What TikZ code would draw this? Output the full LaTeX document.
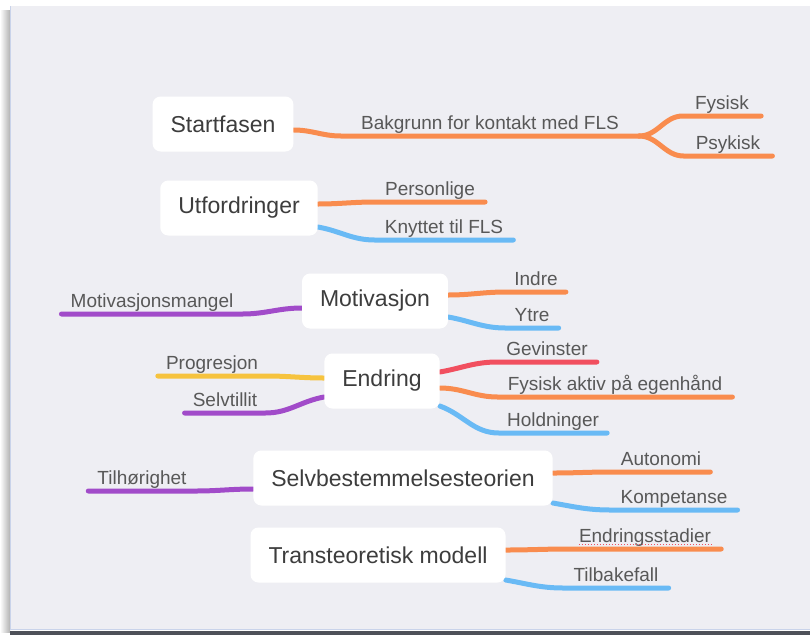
\documentclass[tikz,border=0pt]{standalone}
\usepackage{fontspec}
\setmainfont{Liberation Sans}
\usetikzlibrary{backgrounds}
\definecolor{panel}{HTML}{EEEEF3}
\definecolor{frameDark}{HTML}{4E5159}
\definecolor{frameLine}{HTML}{C9D3EA}
\definecolor{mapOrange}{HTML}{F98C4E}
\definecolor{mapBlue}{HTML}{69BAF5}
\definecolor{mapPurple}{HTML}{A14BC9}
\definecolor{mapYellow}{HTML}{F6C33E}
\definecolor{mapRed}{HTML}{F14F5F}
\definecolor{topicText}{HTML}{3D3D3D}
\definecolor{leafText}{HTML}{585858}
\tikzset{
  topic/.style={fill=white, rounded corners=8pt, minimum height=55pt, inner xsep=18pt,
    text=topicText, font=\fontsize{23}{27}\selectfont},
  leaf/.style={anchor=south, inner xsep=10pt, inner ysep=1.5pt, text depth=4.5pt,
    text height=13.5pt, text=leafText, font=\fontsize{19}{22}\selectfont},
  branch/.style={line width=5pt, line cap=round, draw=#1},
}
\begin{document}
\begin{tikzpicture}[x=1pt, y=-1pt, line join=round]
  \useasboundingbox (0,0) rectangle (810,635);
  \node[topic] (st) at (223,124) {Startfasen};
  \node[topic] (ut) at (239,208) {Utfordringer};
  \node[topic] (mo) at (375,301) {Motivasjon};
  \node[topic] (en) at (382,381) {Endring};
  \node[topic] (sb) at (403,478) {Selvbestemmelsesteorien};
  \node[topic] (tm) at (378,555) {Transteoretisk modell};
  \node[leaf, inner xsep=20pt] (bk) at (490,136) {Bakgrunn for kontakt med FLS};
  \node[leaf, inner xsep=12pt] (fy) at (722,116) {Fysisk};
  \node[leaf, inner xsep=12pt] (ps) at (728,156) {Psykisk};
  \node[leaf] (pe) at (430,202) {Personlige};
  \node[leaf] (kn) at (444,240) {Knyttet til FLS};
  \node[leaf, inner xsep=9pt] (mm) at (152,314) {Motivasjonsmangel};
  \node[leaf, inner xsep=8pt] (in) at (536,292) {Indre};
  \node[leaf, inner xsep=9pt] (yt) at (532,328) {Ytre};
  \node[leaf, inner xsep=8pt] (pr) at (212,376) {Progresjon};
  \node[leaf, inner xsep=8pt] (se) at (225,413) {Selvtillit};
  \node[leaf, inner xsep=9pt] (ge) at (547,362) {Gevinster};
  \node[leaf] (fa) at (615,397) {Fysisk aktiv på egenhånd};
  \node[leaf, inner xsep=8pt] (ho) at (553,433) {Holdninger};
  \node[leaf, inner xsep=9pt] (ti) at (142,491) {Tilhørighet};
  \node[leaf, inner xsep=9pt] (au) at (661,472) {Autonomi};
  \node[leaf] (ko) at (674,510) {Kompetanse};
  \node[leaf] (es) at (645,549) {Endringsstadier};
  \node[leaf] (tb) at (616,588) {Tilbakefall};
  \begin{scope}[on background layer]
    \shade[left color=white, right color=black!30] (0,10) rectangle (10,632);
    \fill[panel] (10,6) rectangle (810,630);
    \draw[frameLine, line width=1pt] (10.5,6) -- (10.5,629.5) -- (810,629.5);
    \fill[frameDark] (10,631) rectangle (810,635);
    \draw[branch=mapOrange] ([yshift=-6pt]st.east) to[out=0,in=180] (bk.south west) -- (bk.south east);
    \draw[branch=mapOrange] (bk.south east) to[out=0,in=180] (fy.south west) -- (fy.south east);
    \draw[branch=mapOrange] (bk.south east) to[out=0,in=180] (ps.south west) -- (ps.south east);
    \draw[branch=mapOrange] ([yshift=4pt]ut.east) to[out=0,in=180] (pe.south west) -- (pe.south east);
    \draw[branch=mapBlue] ([yshift=-19pt]ut.east) to[out=-10,in=180] (kn.south west) -- (kn.south east);
    \draw[branch=mapPurple] ([yshift=-7pt]mo.west) to[out=180,in=0] (mm.south east) -- (mm.south west);
    \draw[branch=mapOrange] ([yshift=6pt]mo.east) to[out=0,in=180] (in.south west) -- (in.south east);
    \draw[branch=mapBlue] ([yshift=-16pt]mo.east) to[out=-10,in=180] (yt.south west) -- (yt.south east);
    \draw[branch=mapYellow] ([yshift=3pt]en.west) to[out=180,in=0] (pr.south east) -- (pr.south west);
    \draw[branch=mapPurple] ([yshift=-16pt]en.west) to[out=190,in=0] (se.south east) -- (se.south west);
    \draw[branch=mapRed] ([yshift=9pt]en.east) to[out=10,in=180] (ge.south west) -- (ge.south east);
    \draw[branch=mapOrange] ([yshift=-7pt]en.east) to[out=0,in=180] (fa.south west) -- (fa.south east);
    \draw[branch=mapBlue] ([yshift=-25pt]en.east) to[out=-20,in=180] (ho.south west) -- (ho.south east);
    \draw[branch=mapPurple] ([yshift=-11pt]sb.west) to[out=180,in=0] (ti.south east) -- (ti.south west);
    \draw[branch=mapOrange] ([yshift=5pt]sb.east) to[out=0,in=180] (au.south west) -- (au.south east);
    \draw[branch=mapBlue] ([yshift=-25pt]sb.east) to[out=-10,in=180] (ko.south west) -- (ko.south east);
    \draw[branch=mapOrange] ([yshift=5pt]tm.east) to[out=0,in=180] (es.south west) -- (es.south east);
    \draw[branch=mapBlue] ([yshift=-25pt]tm.east) to[out=-10,in=180] (tb.south west) -- (tb.south east);
  \end{scope}
  \draw[mapRed, line width=1pt, dotted] ([xshift=10pt,yshift=-2pt]es.base west) -- ([xshift=-10pt,yshift=-2pt]es.base east);
\end{tikzpicture}
\end{document}
